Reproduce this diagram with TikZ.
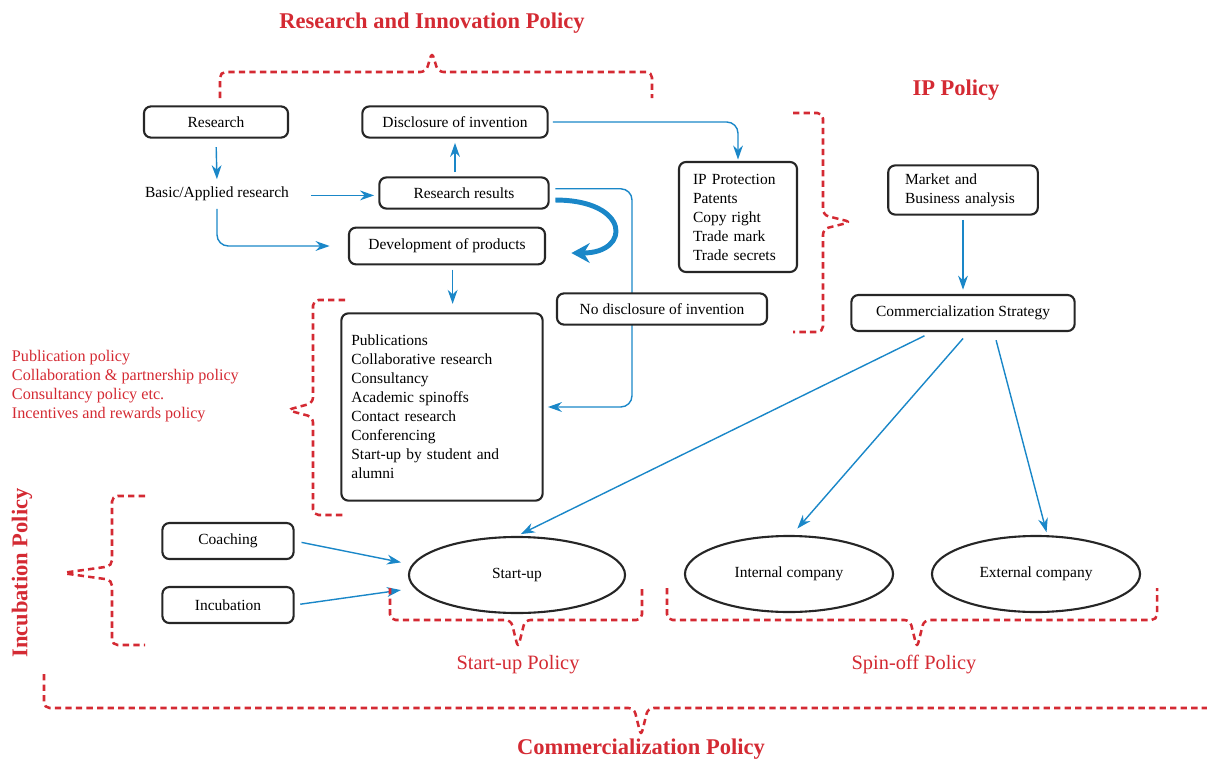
\documentclass[tikz,border=0pt]{standalone}
\usepackage{fontspec}
\setmainfont{Liberation Serif}
\usepackage{tikz}
\usetikzlibrary{arrows.meta,shapes.geometric}

\definecolor{polred}{HTML}{D42A33}
\definecolor{flowblue}{HTML}{1A87C8}

\begin{document}
\begin{tikzpicture}[
            x = 0.025cm, y = -0.025cm, % pixel grid, y grows downwards
            > = {Stealth[length=10pt,width=7pt]}, % arrow head style
            box/.style = {draw=black!85, line width=1.5pt, rounded corners=5pt,
                          fill=white, inner sep=0pt, font=\fontsize{11}{13.5}\selectfont},
            oval/.style = {ellipse, draw=black!85, line width=1.5pt,
                           minimum width=5.2cm, minimum height=1.9cm,
                           font=\fontsize{11}{13.5}\selectfont},
            flow/.style = {->, draw=flowblue, line width=1pt}, % blue connectors
            brace/.style = {draw=polred, line width=1.8pt,
                            dash pattern=on 4.5pt off 3pt, rounded corners=4pt},
            policy/.style = {text=polred, font=\bfseries\fontsize{16}{18}\selectfont},
            subpolicy/.style = {text=polred, font=\fontsize{14.5}{17}\selectfont}
        ]

    \useasboundingbox (0,0) rectangle (1207,762);

    % research part
	\node[box, minimum width=3.6cm, minimum height=0.78cm] (research) at (216,122) {Research};
	\node[box, minimum width=4.63cm, minimum height=0.78cm] (disc) at (455,122) {Disclosure of invention};
	\node[font=\fontsize{11}{13.5}\selectfont] (basic) at (217,194) {Basic/Applied research};
	\node[box, minimum width=4.23cm, minimum height=0.78cm] (results) at (464,193) {Research results};
	\node[box, minimum width=4.9cm, minimum height=0.92cm] (dev) at (447,246) {Development of products};
	\node[box, align=left, text width=4.53cm, inner xsep=0.25cm, minimum height=4.68cm] (outputs) at (442,407)
	    {Publications\\Collaborative research\\Consultancy\\Academic spinoffs\\Contact research\\Conferencing\\Start-up by student and\\alumni};

	% IP part
	\node[box, align=left, text width=2.25cm, inner xsep=0.35cm, minimum height=2.75cm] (ip) at (738,217)
	    {IP Protection\\Patents\\Copy right\\Trade mark\\Trade secrets};
	\node[box, align=left, text width=2.9cm, inner xsep=0.42cm, minimum height=1.23cm] (market) at (963,190)
	    {Market and\\Business analysis};
	\node[box, minimum width=5.58cm, minimum height=0.9cm] (strategy) at (963,313) {Commercialization Strategy};

	% ventures
	\node[box, minimum width=3.28cm, minimum height=0.9cm] (coaching) at (228,541) {Coaching};
	\node[box, minimum width=3.28cm, minimum height=0.9cm] (incubation) at (228,605) {Incubation};
	\node[oval, minimum width=5.4cm] (startup) at (517,575) {Start-up};
	\node[oval] (internal) at (789,574) {Internal company};
	\node[oval] (external) at (1036,574) {External company};

	% connectors
	\draw[flow, shorten <=6pt, shorten >=2pt] (research.south) -- (basic.north);
	\draw[flow, shorten <=12pt, shorten >=3pt] ([yshift=-1pt]basic.east) -- ([yshift=-1pt]basic.east -| results.west);
	\draw[flow, shorten <=3pt, shorten >=3pt] (results.north -| disc.south) -- (disc.south);
	\draw[flow, rounded corners=8pt, shorten <=2pt, shorten >=13pt] (basic.south) |- (dev.west);
	\draw[flow, shorten <=3pt, shorten >=6pt] ([xshift=4pt]dev.south) -- ([xshift=4pt]dev.south |- outputs.north);
	\draw[flow, rounded corners=8pt, shorten <=3pt, shorten >=1pt] (disc.east) -| (ip.north);
	\coordinate (turn) at (632,300);
	\draw[flow, rounded corners=8pt, shorten <=4pt, shorten >=3pt] ([yshift=3pt]results.east) -| (turn) |- (outputs.east);
	\draw[->, draw=flowblue, line width=3.5pt, > = {Stealth[length=13pt,width=14pt]}]
	    ([xshift=4pt,yshift=-5pt]results.east) .. controls +(75,0) and +(60,0) .. ([xshift=18pt,yshift=-5pt]dev.east);

	\node[box, minimum width=5.25cm, minimum height=0.78cm] (nodisc) at (662,309) {No disclosure of invention};

	\draw[flow, shorten <=3pt, shorten >=3pt] (market.south) -- (strategy.north);
	\draw[flow, shorten <=6pt, shorten >=3pt] ([xshift=-22pt]strategy.south) -- (startup.north);
	\draw[flow, shorten <=6pt, shorten >=6pt] ([xshift=4pt]strategy.south) -- ([xshift=2pt]internal.north);
	\draw[flow, shorten <=6pt, shorten >=2pt] ([xshift=22pt]strategy.south) -- ([xshift=8pt]external.north);
	\draw[flow, shorten <=5pt, shorten >=5pt] (coaching.east) -- ([yshift=8pt]startup.west);
	\draw[flow, shorten <=4pt, shorten >=5pt] (incubation.east) -- ([yshift=-10pt]startup.west);

	% policy braces
	\draw[brace] (220,98) -- (220,72) -- (426,72) -- (432,52) -- (438,72) -- (652,72) -- (652,98);
	\draw[brace] (793,113) -- (823,113) -- (823,215) -- (851,222) -- (823,229) -- (823,332) -- (793,332);
	\draw[brace] (345,300) -- (313,300) -- (313,403) -- (287,410) -- (313,417) -- (313,515) -- (345,515);
	\draw[brace] (145,496) -- (112,496) -- (112,566) -- (62,573) -- (112,580) -- (112,645) -- (145,645);
	\draw[brace] (390,588) -- (390,620) -- (511,620) -- (518,648) -- (525,620) -- (642,620) -- (642,588);
	\draw[brace] (667,588) -- (667,620) -- (910,620) -- (917,648) -- (924,620) -- (1157,620) -- (1157,588);
	\draw[brace] (44,674) -- (44,708) -- (634,708) -- (641,736) -- (648,708) -- (1215,708);

	% policy labels
	\node[policy] (ripolicy) at (432,23) {Research and Innovation Policy};
	\node[policy] (ippolicy) at (956,90) {IP Policy};
	\node[policy, rotate=90] (incpolicy) at (22,573) {Incubation Policy};
	\node[policy] (compolicy) at (641,749) {Commercialization Policy};
	\node[subpolicy] (startpolicy) at (518,665) {Start-up Policy};
	\node[subpolicy] (spinpolicy) at (914,665) {Spin-off Policy};
	\node[text=polred, align=left, anchor=west, font=\fontsize{11.5}{13.5}\selectfont] (rules) at (7,386)
	    {Publication policy\\Collaboration \& partnership policy\\Consultancy policy etc.\\Incentives and rewards policy};

\end{tikzpicture}
\end{document}
